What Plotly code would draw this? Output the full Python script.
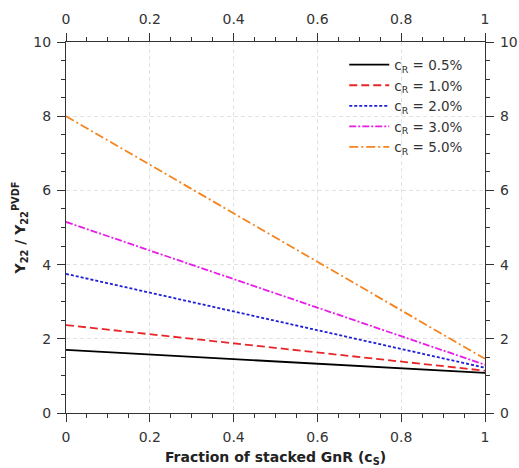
import plotly.graph_objects as go

cs = [0.0, 1.0]
labels = ["0.5%", "1.0%", "2.0%", "3.0%", "5.0%"]
y_05 = [1.70, 1.08]
y_10 = [2.37, 1.14]
y_20 = [3.75, 1.22]
y_30 = [5.15, 1.30]
y_50 = [8.00, 1.46]
series = [y_05, y_10, y_20, y_30, y_50]
colors = ["#000000", "#e8262a", "#1f1fd6", "#e81ee8", "#f5841f"]
dashes = ["solid", "8px,4px", "3px,2px", "7px,2px,2px,2px", "9px,3px,2px,3px"]

fig = go.Figure()
for lab, ys, c, d in zip(labels, series, colors, dashes):
    fig.add_trace(go.Scatter(x=cs, y=ys, mode="lines", name=f"c<sub>R</sub> = {lab}",
                             line=dict(color=c, dash=d, width=1.8)))
fig.add_trace(go.Scatter(x=[0, 1], y=[0, 10], xaxis="x2", yaxis="y2", mode="markers",
                         marker=dict(opacity=0), showlegend=False, hoverinfo="skip"))

font = dict(family="DejaVu Sans", size=14, color="#333")
axcommon = dict(showline=True, linecolor="#333", linewidth=1.2, ticks="outside",
                ticklen=8, tickcolor="#333", tickwidth=1, tickfont=font, zeroline=False,
                automargin=False, ticklabelstandoff=3)
xt = [0, 0.2, 0.4, 0.6, 0.8, 1]
xl = ["0", "0.2", "0.4", "0.6", "0.8", "1"]
yt = [0, 2, 4, 6, 8, 10]

fig.update_layout(
    width=519, height=468,
    margin=dict(l=66, r=34, t=42, b=55),
    paper_bgcolor="white", plot_bgcolor="white",
    font=font,
    showlegend=True,
    legend=dict(x=0.96, y=0.98, xanchor="right", yanchor="top", bgcolor="rgba(0,0,0,0)",
                font=dict(family="DejaVu Sans", size=13.5, color="#333"), tracegroupgap=0,
                itemwidth=40),
    xaxis=dict(range=[0, 1], tickvals=xt, ticktext=xl,
               showgrid=True, gridcolor="#e2e2e2", griddash="4px,3px", gridwidth=1,
               minor=dict(dtick=0.05, ticklen=4, ticks="outside", tickcolor="#333", showgrid=False),
               title=dict(text="<b>Fraction of stacked GnR (c<sub>S</sub>)</b>",
                          font=dict(family="DejaVu Sans", size=14, color="#222"), standoff=8),
               **axcommon),
    yaxis=dict(range=[0, 10], tickvals=yt,
               showgrid=True, gridcolor="#e2e2e2", griddash="4px,3px", gridwidth=1,
               minor=dict(dtick=0.5, ticklen=4, ticks="outside", tickcolor="#333", showgrid=False),
               title=dict(text="<b>Y<sub>22</sub> / Y<sub>22</sub><sup>PVDF</sup></b>",
                          font=dict(family="DejaVu Sans", size=14, color="#222"), standoff=4),
               **axcommon),
    xaxis2=dict(range=[0, 1], overlaying="x", side="top", tickvals=xt, ticktext=xl, showgrid=False,
                minor=dict(dtick=0.05, ticklen=4, ticks="outside", tickcolor="#333"),
                **axcommon),
    yaxis2=dict(range=[0, 10], overlaying="y", side="right", tickvals=yt, showgrid=False,
                minor=dict(dtick=0.5, ticklen=4, ticks="outside", tickcolor="#333"),
                **axcommon),
)
fig.write_html("out.html")
